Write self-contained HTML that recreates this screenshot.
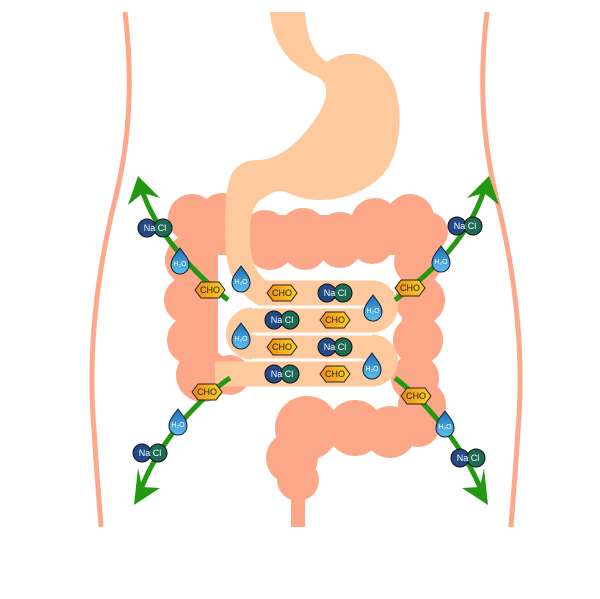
<!DOCTYPE html>
<html><head><meta charset="utf-8"><style>
html,body{margin:0;padding:0;background:#fff;}
svg{display:block;}
text{font-family:"Liberation Sans",sans-serif;}
</style></head><body>
<svg width="600" height="599" viewBox="0 0 600 599" xmlns="http://www.w3.org/2000/svg">
<defs>
<linearGradient id="og" x1="0" y1="0" x2="1" y2="0"><stop offset="0" stop-color="#f08a1c"/><stop offset="1" stop-color="#fbd21e"/></linearGradient>
<linearGradient id="bg" x1="0" y1="0" x2="0" y2="1"><stop offset="0" stop-color="#1c6fb8"/><stop offset="1" stop-color="#5ec0ee"/></linearGradient>
</defs>
<!-- body -->
<path d="M125,12 C133,80 130,140 115,200 C95,280 88,360 94,430 C97,480 100,510 101,527" fill="none" stroke="#fba98a" stroke-width="5"/>
<path d="M487,12 C479,80 482,140 497,200 C517,280 524,360 518,430 C515,480 512,510 511,527" fill="none" stroke="#fba98a" stroke-width="5"/>
<!-- colon -->
<g fill="#fca888">
<rect x="200" y="215" width="220" height="40"/>
<rect x="188" y="215" width="30" height="170"/>
<rect x="402" y="215" width="28" height="220"/>
<circle cx="192" cy="218" r="24"/><circle cx="222" cy="215" r="22"/>
<circle cx="265" cy="232" r="22"/><circle cx="303" cy="232" r="24"/><circle cx="340" cy="234" r="22"/><circle cx="375" cy="222" r="24"/><circle cx="410" cy="218" r="24"/><circle cx="428" cy="232" r="20"/>
<circle cx="270" cy="246" r="24"/><circle cx="305" cy="248" r="22"/><circle cx="340" cy="246" r="22"/><circle cx="372" cy="242" r="22"/>
<circle cx="190" cy="260" r="25"/><circle cx="188" cy="300" r="24"/><circle cx="192" cy="340" r="25"/><circle cx="203" cy="375" r="27"/><circle cx="230" cy="375" r="20"/>
<circle cx="418" cy="262" r="24"/><circle cx="420" cy="300" r="25"/><circle cx="418" cy="340" r="25"/><circle cx="415" cy="378" r="24"/><circle cx="422" cy="405" r="24"/><circle cx="418" cy="425" r="22"/>
<circle cx="390" cy="432" r="26"/><circle cx="355" cy="428" r="28"/><circle cx="307" cy="428" r="32"/><circle cx="292" cy="458" r="26"/><circle cx="298" cy="480" r="21"/>
<rect x="291" y="490" width="14" height="37"/>
</g>
<!-- stomach -->
<path d="M270,12 L305,12 C307,40 315,55 327,62 C345,48 375,50 392,80 C404,105 402,150 385,172 C370,190 345,200 320,200 C305,200 295,196 288,193 C282,190 274,190 266,197 C256,200 250,212 250,230 L226,240 C224,215 226,190 230,178 C234,166 245,160 258,160 C280,160 302,140 318,115 C328,98 330,85 318,77 C292,68 272,45 270,12 Z" fill="#fdc99d"/>
<path d="M238,225 C236,260 242,280 262,293 H372 A13.5,13.5 0 0 1 372,320 H252 A13.5,13.5 0 0 0 252,347 H372 A13.5,13.5 0 0 1 372,374 H215" fill="none" stroke="#fdc99d" stroke-width="25"/>
<g stroke="#fff" stroke-width="3"><line x1="252" y1="307" x2="362" y2="307"/><line x1="252" y1="360" x2="362" y2="360"/><line x1="256" y1="334" x2="372" y2="334"/></g>
<!-- arrows -->
<g fill="none" stroke="#229911" stroke-width="5">
<path d="M228,300 C190,270 155,230 142,190"/>
<path d="M230,378 C190,405 155,450 140,492"/>
<path d="M395,300 C435,270 470,235 484,190"/>
<path d="M395,378 C430,405 465,450 482,492"/>
</g>
<g fill="#229911">
<polygon points="138,176 128,205 143,193 160,198"/>
<polygon points="134,505 160,488 142,487 138,468"/>
<polygon points="489,176 499,205 484,193 467,198"/>
<polygon points="488,505 462,488 480,487 484,468"/>
</g>
<!-- icons -->
<g font-size="9">
<g stroke="#111" stroke-width="1">
<circle cx="147" cy="228" r="9" fill="#234a86"/><circle cx="163" cy="228" r="9" fill="#1d6a55"/>
<circle cx="457" cy="226" r="9" fill="#234a86"/><circle cx="473" cy="226" r="9" fill="#1d6a55"/>
<circle cx="142" cy="453" r="9" fill="#234a86"/><circle cx="158" cy="453" r="9" fill="#1d6a55"/>
<circle cx="460" cy="458" r="9" fill="#234a86"/><circle cx="476" cy="458" r="9" fill="#1d6a55"/>
<circle cx="327" cy="293" r="9" fill="#234a86"/><circle cx="343" cy="293" r="9" fill="#1d6a55"/>
<circle cx="274" cy="320" r="9" fill="#234a86"/><circle cx="290" cy="320" r="9" fill="#1d6a55"/>
<circle cx="327" cy="347" r="9" fill="#234a86"/><circle cx="343" cy="347" r="9" fill="#1d6a55"/>
<circle cx="274" cy="374" r="9" fill="#234a86"/><circle cx="290" cy="374" r="9" fill="#1d6a55"/>
</g>
<g fill="#fff" text-anchor="middle">
<text x="155" y="231">Na Cl</text><text x="465" y="229">Na Cl</text><text x="150" y="456">Na Cl</text><text x="468" y="461">Na Cl</text>
<text x="335" y="296">Na Cl</text><text x="282" y="323">Na Cl</text><text x="335" y="350">Na Cl</text><text x="282" y="377">Na Cl</text>
</g>
<g stroke="#222" stroke-width="1" fill="url(#og)">
<polygon points="-15,0 -9,-8 9,-8 15,0 9,8 -9,8" transform="translate(210,290)"/>
<polygon points="-15,0 -9,-8 9,-8 15,0 9,8 -9,8" transform="translate(207,392)"/>
<polygon points="-15,0 -9,-8 9,-8 15,0 9,8 -9,8" transform="translate(410,288)"/>
<polygon points="-15,0 -9,-8 9,-8 15,0 9,8 -9,8" transform="translate(416,396)"/>
<polygon points="-15,0 -9,-8 9,-8 15,0 9,8 -9,8" transform="translate(282,293)"/>
<polygon points="-15,0 -9,-8 9,-8 15,0 9,8 -9,8" transform="translate(335,320)"/>
<polygon points="-15,0 -9,-8 9,-8 15,0 9,8 -9,8" transform="translate(282,347)"/>
<polygon points="-15,0 -9,-8 9,-8 15,0 9,8 -9,8" transform="translate(335,374)"/>
</g>
<g fill="#222" text-anchor="middle">
<text x="210" y="293">CHO</text><text x="207" y="395">CHO</text><text x="410" y="291">CHO</text><text x="416" y="399">CHO</text>
<text x="282" y="296">CHO</text><text x="335" y="323">CHO</text><text x="282" y="350">CHO</text><text x="335" y="377">CHO</text>
</g>
<g stroke="#123" stroke-width="1" fill="url(#bg)">
<path d="M0,-14 C5,-7 9,-3 9,3 A9,9 0 0 1 -9,3 C-9,-3 -5,-7 0,-14Z" transform="translate(180,262)"/>
<path d="M0,-14 C5,-7 9,-3 9,3 A9,9 0 0 1 -9,3 C-9,-3 -5,-7 0,-14Z" transform="translate(178,423)"/>
<path d="M0,-14 C5,-7 9,-3 9,3 A9,9 0 0 1 -9,3 C-9,-3 -5,-7 0,-14Z" transform="translate(441,260)"/>
<path d="M0,-14 C5,-7 9,-3 9,3 A9,9 0 0 1 -9,3 C-9,-3 -5,-7 0,-14Z" transform="translate(445,425)"/>
<path d="M0,-14 C5,-7 9,-3 9,3 A9,9 0 0 1 -9,3 C-9,-3 -5,-7 0,-14Z" transform="translate(241,280)"/>
<path d="M0,-14 C5,-7 9,-3 9,3 A9,9 0 0 1 -9,3 C-9,-3 -5,-7 0,-14Z" transform="translate(373,309)"/>
<path d="M0,-14 C5,-7 9,-3 9,3 A9,9 0 0 1 -9,3 C-9,-3 -5,-7 0,-14Z" transform="translate(241,337)"/>
<path d="M0,-14 C5,-7 9,-3 9,3 A9,9 0 0 1 -9,3 C-9,-3 -5,-7 0,-14Z" transform="translate(372,367)"/>
</g>
<g fill="#fff" font-size="7" text-anchor="middle">
<text x="180" y="266">H₂O</text><text x="178" y="427">H₂O</text><text x="441" y="264">H₂O</text><text x="445" y="429">H₂O</text>
<text x="241" y="284">H₂O</text><text x="373" y="313">H₂O</text><text x="241" y="341">H₂O</text><text x="372" y="371">H₂O</text>
</g>
</g>
</svg>
</body></html>
